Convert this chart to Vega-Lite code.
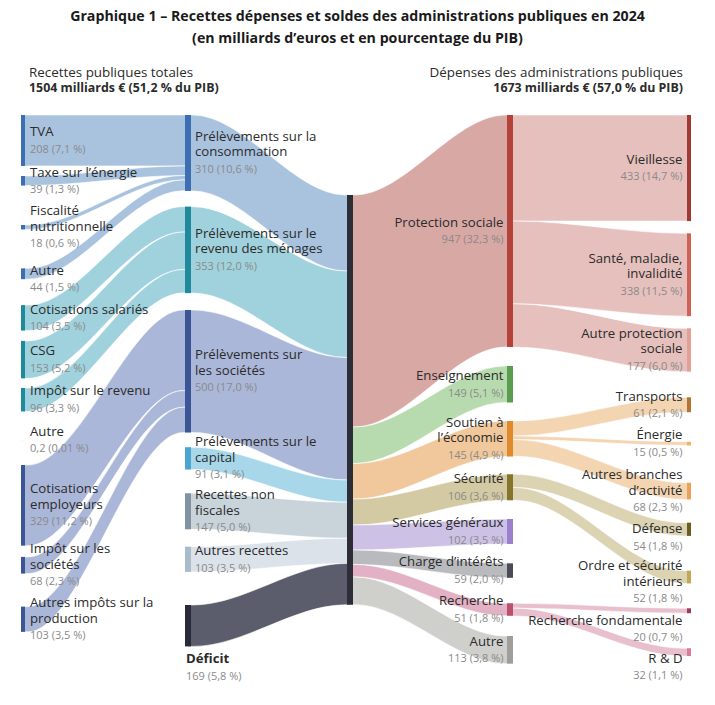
{
  "$schema": "https://vega.github.io/schema/vega-lite/v6.json",
  "width": 715,
  "height": 650,
  "autosize": "none",
  "padding": {"top": 55, "left": 0, "right": 0, "bottom": 0},
  "background": "white",
  "config": {"view": {"stroke": null}, "font": "Open Sans"},
  "title": {
    "text": ["Graphique 1 – Recettes dépenses et soldes des administrations publiques en 2024", "(en milliards d’euros et en pourcentage du PIB)"],
    "fontSize": 14.2,
    "fontWeight": "bold",
    "lineHeight": 22,
    "anchor": "middle",
    "offset": 9,
    "color": "#1a1a1a"
  },
  "data": {
    "values": [
      {"kind": "n", "id": "tva", "stage": 0, "v": 208, "gap": 0, "name": "TVA", "pct": "7,1 %"},
      {"kind": "n", "id": "taxe", "stage": 0, "v": 39, "gap": 41, "name": "Taxe sur l’énergie", "pct": "1,3 %"},
      {"kind": "n", "id": "fisc", "stage": 0, "v": 18, "gap": 161, "name": "Fiscalité|nutritionnelle", "pct": "0,6 %"},
      {"kind": "n", "id": "autre0a", "stage": 0, "v": 44, "gap": 159, "name": "Autre", "pct": "1,5 %"},
      {"kind": "n", "id": "cotsal", "stage": 0, "v": 104, "gap": 106, "name": "Cotisations salariés", "pct": "3,5 %"},
      {"kind": "n", "id": "csg", "stage": 0, "v": 153, "gap": 42, "name": "CSG", "pct": "5,2 %"},
      {"kind": "n", "id": "ir", "stage": 0, "v": 96, "gap": 39, "name": "Impôt sur le revenu", "pct": "3,3 %"},
      {"kind": "n", "id": "autre0b", "stage": 0, "v": 0.2, "gap": 116.5, "name": "Autre", "pct": "0,01 %"},
      {"kind": "n", "id": "cotemp", "stage": 0, "v": 329, "gap": 102, "name": "Cotisations|employeurs", "pct": "11,2 %"},
      {"kind": "n", "id": "is", "stage": 0, "v": 68, "gap": 46, "name": "Impôt sur les|sociétés", "pct": "2,3 %"},
      {"kind": "n", "id": "aip", "stage": 0, "v": 103, "gap": 135, "name": "Autres impôts sur la|production", "pct": "3,5 %"},
      {"kind": "n", "id": "conso", "stage": 1, "v": 310, "gap": 0, "name": "Prélèvements sur la|consommation", "pct": "10,6 %"},
      {"kind": "n", "id": "rev", "stage": 1, "v": 353, "gap": 64, "name": "Prélèvements sur le|revenu des ménages", "pct": "12,0 %"},
      {"kind": "n", "id": "soc", "stage": 1, "v": 500, "gap": 69, "name": "Prélèvements sur|les sociétés", "pct": "17,0 %"},
      {"kind": "n", "id": "cap", "stage": 1, "v": 91, "gap": 60, "name": "Prélèvements sur le|capital", "pct": "3,1 %"},
      {"kind": "n", "id": "nonfisc", "stage": 1, "v": 147, "gap": 97, "name": "Recettes non|fiscales", "pct": "5,0 %"},
      {"kind": "n", "id": "autrec", "stage": 1, "v": 103, "gap": 71, "name": "Autres recettes", "pct": "3,5 %"},
      {"kind": "n", "id": "deficit", "stage": 1, "v": 169, "gap": 135, "name": "Déficit", "pct": "5,8 %"},
      {"kind": "n", "id": "total", "stage": 2, "v": 1673, "gap": 326.5, "name": "", "pct": ""},
      {"kind": "n", "id": "ps", "stage": 3, "v": 947, "gap": 0, "name": "Protection sociale", "pct": "32,3 %"},
      {"kind": "n", "id": "ens", "stage": 3, "v": 149, "gap": 77.5, "name": "Enseignement", "pct": "5,1 %"},
      {"kind": "n", "id": "sout", "stage": 3, "v": 145, "gap": 75.5, "name": "Soutien à|l’économie", "pct": "4,9 %"},
      {"kind": "n", "id": "secu", "stage": 3, "v": 106, "gap": 72.5, "name": "Sécurité", "pct": "3,6 %"},
      {"kind": "n", "id": "serv", "stage": 3, "v": 102, "gap": 76.5, "name": "Services généraux", "pct": "3,5 %"},
      {"kind": "n", "id": "charge", "stage": 3, "v": 59, "gap": 79, "name": "Charge d’intérêts", "pct": "2,0 %"},
      {"kind": "n", "id": "rech", "stage": 3, "v": 51, "gap": 104, "name": "Recherche", "pct": "1,8 %"},
      {"kind": "n", "id": "autre3", "stage": 3, "v": 113, "gap": 82.5, "name": "Autre", "pct": "3,8 %"},
      {"kind": "n", "id": "vieil", "stage": 4, "v": 433, "gap": 0, "name": "Vieillesse", "pct": "14,7 %"},
      {"kind": "n", "id": "sante", "stage": 4, "v": 338, "gap": 50, "name": "Santé, maladie,|invalidité", "pct": "11,5 %"},
      {"kind": "n", "id": "autreps", "stage": 4, "v": 177, "gap": 49.6, "name": "Autre protection|sociale", "pct": "6,0 %"},
      {"kind": "n", "id": "transp", "stage": 4, "v": 61, "gap": 104.6, "name": "Transports", "pct": "2,1 %"},
      {"kind": "n", "id": "energ", "stage": 4, "v": 15, "gap": 120.5, "name": "Énergie", "pct": "0,5 %"},
      {"kind": "n", "id": "branches", "stage": 4, "v": 68, "gap": 152.3, "name": "Autres branches|d’activité", "pct": "2,3 %"},
      {"kind": "n", "id": "def", "stage": 4, "v": 54, "gap": 95, "name": "Défense", "pct": "1,8 %"},
      {"kind": "n", "id": "ordre", "stage": 4, "v": 52, "gap": 142, "name": "Ordre et sécurité|intérieurs", "pct": "1,8 %"},
      {"kind": "n", "id": "rf", "stage": 4, "v": 20, "gap": 101.5, "name": "Recherche fondamentale", "pct": "0,7 %"},
      {"kind": "n", "id": "rd", "stage": 4, "v": 32, "gap": 143, "name": "R & D", "pct": "1,1 %"},
      {"kind": "l", "s": "tva", "t": "conso", "v": 208},
      {"kind": "l", "s": "taxe", "t": "conso", "v": 39},
      {"kind": "l", "s": "fisc", "t": "conso", "v": 18},
      {"kind": "l", "s": "autre0a", "t": "conso", "v": 44},
      {"kind": "l", "s": "cotsal", "t": "rev", "v": 104},
      {"kind": "l", "s": "csg", "t": "rev", "v": 153},
      {"kind": "l", "s": "ir", "t": "rev", "v": 96},
      {"kind": "l", "s": "autre0b", "t": "rev", "v": 0.2},
      {"kind": "l", "s": "cotemp", "t": "soc", "v": 329},
      {"kind": "l", "s": "is", "t": "soc", "v": 68},
      {"kind": "l", "s": "aip", "t": "soc", "v": 103},
      {"kind": "l", "s": "conso", "t": "total", "v": 310},
      {"kind": "l", "s": "rev", "t": "total", "v": 353},
      {"kind": "l", "s": "soc", "t": "total", "v": 500},
      {"kind": "l", "s": "cap", "t": "total", "v": 91},
      {"kind": "l", "s": "nonfisc", "t": "total", "v": 147},
      {"kind": "l", "s": "autrec", "t": "total", "v": 103},
      {"kind": "l", "s": "deficit", "t": "total", "v": 169},
      {"kind": "l", "s": "total", "t": "ps", "v": 947},
      {"kind": "l", "s": "total", "t": "ens", "v": 149},
      {"kind": "l", "s": "total", "t": "sout", "v": 145},
      {"kind": "l", "s": "total", "t": "secu", "v": 106},
      {"kind": "l", "s": "total", "t": "serv", "v": 102},
      {"kind": "l", "s": "total", "t": "charge", "v": 59},
      {"kind": "l", "s": "total", "t": "rech", "v": 51},
      {"kind": "l", "s": "total", "t": "autre3", "v": 113},
      {"kind": "l", "s": "ps", "t": "vieil", "v": 433},
      {"kind": "l", "s": "ps", "t": "sante", "v": 338},
      {"kind": "l", "s": "ps", "t": "autreps", "v": 177},
      {"kind": "l", "s": "sout", "t": "transp", "v": 61},
      {"kind": "l", "s": "sout", "t": "energ", "v": 15},
      {"kind": "l", "s": "sout", "t": "branches", "v": 68},
      {"kind": "l", "s": "secu", "t": "def", "v": 54},
      {"kind": "l", "s": "secu", "t": "ordre", "v": 52},
      {"kind": "l", "s": "rech", "t": "rf", "v": 20},
      {"kind": "l", "s": "rech", "t": "rd", "v": 32}
    ]
  },
  "transform": [
    {"calculate": "datum.kind === 'n' ? datum.gap + datum.v : 0", "as": "gv"},
    {"window": [{"op": "sum", "field": "gv", "as": "cum"}], "groupby": ["stage"], "frame": [null, 0]},
    {"calculate": "datum.kind === 'n' ? datum.cum - datum.v : null", "as": "y0"},
    {"calculate": "datum.kind === 'n' ? datum.cum : null", "as": "y1"},
    {"calculate": "datum.kind === 'n' ? split(datum.name, '|') : null", "as": "nlines"},
    {"calculate": "datum.kind === 'n' ? length(datum.nlines) : 0", "as": "nl"},
    {"calculate": "datum.kind === 'n' ? replace(toString(datum.v), '.', ',') + ' (' + datum.pct + ')' : null", "as": "vtext"},
    {"calculate": "datum.id === 'rf' ? 18.5 : datum.id === 'rd' ? 15 : datum.id === 'def' ? 8 : datum.id === 'ordre' ? 5 : datum.id === 'autre0a' ? 5 : datum.id === 'deficit' ? 42 : 0", "as": "nudge"},
    {"calculate": "datum.kind === 'n' ? (datum.y0 + datum.y1) / 2 + (datum.nudge - datum.nl * 7.75 - 0.5) / 0.245 : null", "as": "lyn"},
    {"calculate": "datum.kind === 'n' ? (datum.y0 + datum.y1) / 2 + (datum.nudge + datum.nl * 7.75 + 1.5) / 0.245 : null", "as": "lyv"}
  ],
  "resolve": {"scale": {"color": "independent"}},
  "layer": [
    {
      "transform": [
        {"calculate": "datum.kind === 'n' ? datum.id : datum.s", "as": "ks"},
        {"joinaggregate": [{"op": "max", "field": "y0", "as": "sy"}, {"op": "max", "field": "stage", "as": "sst"}], "groupby": ["ks"]},
        {"calculate": "datum.kind === 'n' ? datum.id : datum.t", "as": "kt"},
        {"joinaggregate": [{"op": "max", "field": "y0", "as": "ty"}], "groupby": ["kt"]},
        {"filter": "datum.kind === 'l'"},
        {"window": [{"op": "sum", "field": "v", "as": "so"}], "groupby": ["s"], "sort": [{"field": "ty", "order": "ascending"}], "frame": [null, 0]},
        {"window": [{"op": "sum", "field": "v", "as": "to"}], "groupby": ["t"], "sort": [{"field": "sy", "order": "ascending"}], "frame": [null, 0]},
        {"calculate": "datum.sy + datum.so - datum.v", "as": "ys0"},
        {"calculate": "datum.sy + datum.so", "as": "ys1"},
        {"calculate": "datum.ty + datum.to - datum.v", "as": "yt0"},
        {"calculate": "datum.ty + datum.to", "as": "yt1"},
        {"calculate": "datum.sst", "as": "p0"},
        {"calculate": "datum.sst + 0.03", "as": "p1"},
        {"calculate": "datum.sst + 0.97", "as": "p2"},
        {"calculate": "datum.sst + 1", "as": "p3"},
        {"calculate": "datum.sst === 3 ? datum.s + '2' : (datum.sst === 0 || datum.sst === 2 ? datum.t : datum.s)", "as": "ck"},
        {"calculate": "datum.s + '>' + datum.t", "as": "lid"},
        {"fold": ["p0", "p1", "p2", "p3"], "as": ["pk", "px"]},
        {"calculate": "datum.pk === 'p0' || datum.pk === 'p1' ? datum.ys0 : datum.yt0", "as": "top"},
        {"calculate": "datum.pk === 'p0' || datum.pk === 'p1' ? datum.ys1 : datum.yt1", "as": "bot"}
      ],
      "mark": {"type": "area", "interpolate": "monotone", "stroke": "white", "strokeWidth": 0.6},
      "encoding": {
        "x": {"field": "px", "type": "quantitative", "axis": null, "scale": {"domain": [0, 1, 2, 3, 4], "range": [23, 188, 350, 510, 689], "nice": false, "zero": false}},
        "y": {"field": "top", "type": "quantitative", "axis": null, "scale": {"domain": [-244.9, 2408.2], "range": [0, 650], "nice": false, "zero": false}},
        "y2": {"field": "bot"},
        "detail": {"field": "lid"},
        "color": {
          "field": "ck", "type": "nominal", "legend": null,
          "scale": {
            "domain": ["conso", "rev", "soc", "cap", "nonfisc", "autrec", "deficit", "ps", "ens", "sout", "secu", "serv", "charge", "rech", "autre3", "ps2", "sout2", "secu2", "rech2"],
            "range": ["#a9c3df", "#a0d2de", "#abb7d9", "#a8d7ea", "#c9d3da", "#dce2e9", "#5b5c6c", "#d8a8a4", "#b7dbae", "#f0c89b", "#d3c9a2", "#cdc1e5", "#b9babd", "#e2b1c3", "#cfcfcc", "#e6c0bc", "#f3d5b2", "#dcd3b3", "#e7bfcd"]
          }
        }
      }
    },
    {
      "transform": [{"filter": "datum.kind === 'n'"}],
      "mark": {"type": "rule"},
      "encoding": {
        "x": {"field": "stage", "type": "quantitative", "axis": null, "scale": {"domain": [0, 1, 2, 3, 4], "range": [23, 188, 350, 510, 689], "nice": false, "zero": false}},
        "y": {"field": "y0", "type": "quantitative", "axis": null, "scale": {"domain": [-244.9, 2408.2], "range": [0, 650], "nice": false, "zero": false}},
        "y2": {"field": "y1"},
        "strokeWidth": {"condition": {"test": "datum.stage === 0 || datum.stage === 4", "value": 4}, "value": 6},
        "color": {
          "field": "id", "type": "nominal", "legend": null,
          "scale": {
            "domain": ["tva", "taxe", "fisc", "autre0a", "cotsal", "csg", "ir", "autre0b", "cotemp", "is", "aip", "conso", "rev", "soc", "cap", "nonfisc", "autrec", "deficit", "total", "ps", "ens", "sout", "secu", "serv", "charge", "rech", "autre3", "vieil", "sante", "autreps", "transp", "energ", "branches", "def", "ordre", "rf", "rd"],
            "range": ["#3c6fb1", "#3c6fb1", "#3c6fb1", "#3c6fb1", "#1f8a9b", "#1f8a9b", "#1f8a9b", "#1f8a9b", "#3b5596", "#3b5596", "#3b5596", "#3c6fb1", "#1f8a9b", "#3b5596", "#4aa5d0", "#7f93a2", "#a8bccb", "#2a2a3a", "#2c2d36", "#b4423b", "#5b9d4f", "#df8a2b", "#85742a", "#9b80d0", "#4b4b57", "#b9506f", "#a09e9b", "#a13a33", "#cf6255", "#e2a096", "#b07632", "#f1b565", "#eaa258", "#6a5d22", "#c1a853", "#9c3c5b", "#d97b9e"]
          }
        }
      }
    },
    {
      "transform": [{"filter": "datum.kind === 'n' && datum.stage < 2 && datum.id !== 'deficit'"}],
      "mark": {"type": "text", "align": "left", "baseline": "middle", "dx": 7, "fontSize": 13.2, "lineHeight": 15.5, "color": "#2b2b2b"},
      "encoding": {
        "x": {"field": "stage", "type": "quantitative"},
        "y": {"field": "lyn", "type": "quantitative"},
        "text": {"field": "nlines"}
      }
    },
    {
      "transform": [{"filter": "datum.kind === 'n' && datum.stage < 2 && datum.id !== 'deficit'"}],
      "mark": {"type": "text", "align": "left", "baseline": "middle", "dx": 7, "fontSize": 11, "color": "#8a8a8a"},
      "encoding": {
        "x": {"field": "stage", "type": "quantitative"},
        "y": {"field": "lyv", "type": "quantitative"},
        "text": {"field": "vtext"}
      }
    },
    {
      "transform": [{"filter": "datum.kind === 'n' && datum.stage > 2"}],
      "mark": {"type": "text", "align": "right", "baseline": "middle", "dx": -6.5, "fontSize": 13.2, "lineHeight": 15.5, "color": "#2b2b2b"},
      "encoding": {
        "x": {"field": "stage", "type": "quantitative"},
        "y": {"field": "lyn", "type": "quantitative"},
        "text": {"field": "nlines"}
      }
    },
    {
      "transform": [{"filter": "datum.kind === 'n' && datum.stage > 2"}],
      "mark": {"type": "text", "align": "right", "baseline": "middle", "dx": -6.5, "fontSize": 11, "color": "#8a8a8a"},
      "encoding": {
        "x": {"field": "stage", "type": "quantitative"},
        "y": {"field": "lyv", "type": "quantitative"},
        "text": {"field": "vtext"}
      }
    },
    {
      "transform": [{"filter": "datum.id === 'deficit'"}],
      "mark": {"type": "text", "align": "left", "baseline": "middle", "dx": -2, "fontSize": 13.2, "fontWeight": "bold", "lineHeight": 15.5, "color": "#2b2b2b"},
      "encoding": {
        "x": {"field": "stage", "type": "quantitative"},
        "y": {"field": "lyn", "type": "quantitative"},
        "text": {"field": "nlines"}
      }
    },
    {
      "transform": [{"filter": "datum.id === 'deficit'"}],
      "mark": {"type": "text", "align": "left", "baseline": "middle", "dx": -2, "fontSize": 11, "color": "#8a8a8a"},
      "encoding": {
        "x": {"field": "stage", "type": "quantitative"},
        "y": {"field": "lyv", "type": "quantitative"},
        "text": {"field": "vtext"}
      }
    },
    {
      "data": {"values": [
        {"side": "l", "stage": 0, "label": "Recettes publiques totales", "total": 1504, "pct": "51,2 %"},
        {"side": "r", "stage": 4, "label": "Dépenses des administrations publiques", "total": 1673, "pct": "57,0 %"}
      ]},
      "layer": [
        {
          "transform": [{"filter": "datum.side === 'l'"}],
          "mark": {"type": "text", "align": "left", "baseline": "middle", "dx": 6, "fontSize": 13.4, "color": "#2b2b2b"},
          "encoding": {"x": {"field": "stage", "type": "quantitative"}, "y": {"datum": -171.4}, "text": {"field": "label"}}
        },
        {
          "transform": [{"filter": "datum.side === 'l'"}, {"calculate": "toString(datum.total) + ' milliards € (' + datum.pct + ' du PIB)'", "as": "tl"}],
          "mark": {"type": "text", "align": "left", "baseline": "middle", "dx": 6, "fontSize": 12.4, "fontWeight": "bold", "color": "#2b2b2b"},
          "encoding": {"x": {"field": "stage", "type": "quantitative"}, "y": {"datum": -110.2}, "text": {"field": "tl"}}
        },
        {
          "transform": [{"filter": "datum.side === 'r'"}],
          "mark": {"type": "text", "align": "right", "baseline": "middle", "dx": -6, "fontSize": 13.4, "color": "#2b2b2b"},
          "encoding": {"x": {"field": "stage", "type": "quantitative"}, "y": {"datum": -171.4}, "text": {"field": "label"}}
        },
        {
          "transform": [{"filter": "datum.side === 'r'"}, {"calculate": "toString(datum.total) + ' milliards € (' + datum.pct + ' du PIB)'", "as": "tl"}],
          "mark": {"type": "text", "align": "right", "baseline": "middle", "dx": -6, "fontSize": 12.4, "fontWeight": "bold", "color": "#2b2b2b"},
          "encoding": {"x": {"field": "stage", "type": "quantitative"}, "y": {"datum": -110.2}, "text": {"field": "tl"}}
        }
      ]
    }
  ]
}
